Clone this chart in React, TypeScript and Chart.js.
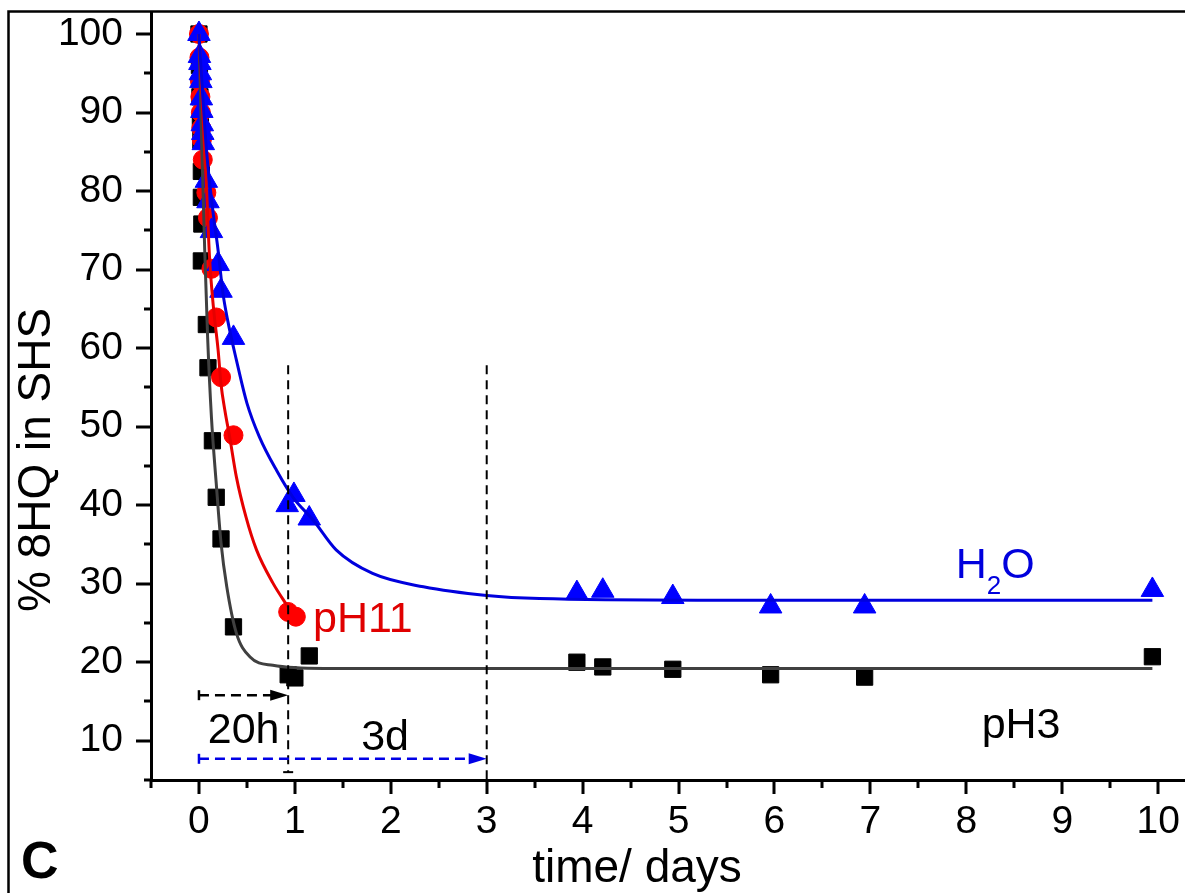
import React, { useEffect, useRef } from "react";
import { Chart, registerables } from "chart.js";

Chart.register(...registerables);

const FONT = "'Liberation Sans', Arial, Helvetica, sans-serif";

// ---- measured points (time in days, % 8HQ in SHS) ----
const pH3Days = [0, 0.005, 0.01, 0.015, 0.02, 0.025, 0.025, 0.03, 0.025, 0.077, 0.094, 0.14, 0.18, 0.23, 0.36, 0.93, 1.0, 1.15, 3.94, 4.21, 4.94, 5.96, 6.94, 9.94];
const pH3Pct = [100, 96, 92, 89, 86.5, 82.5, 79.2, 75.8, 71.1, 63.0, 57.5, 48.2, 41.0, 35.7, 24.5, 18.4, 18.0, 20.8, 20.0, 19.4, 19.1, 18.4, 18.1, 20.7];

const pH11Days = [0, 0.005, 0.01, 0.015, 0.02, 0.025, 0.03, 0.04, 0.077, 0.094, 0.13, 0.18, 0.23, 0.36, 0.93, 1.01];
const pH11Pct = [100, 97, 94, 92, 90, 88, 86.5, 84, 79.8, 76.6, 70.1, 63.9, 56.3, 48.9, 26.4, 25.8];

const h2oDays = [0, 0.005, 0.01, 0.015, 0.02, 0.025, 0.03, 0.035, 0.04, 0.045, 0.077, 0.094, 0.13, 0.2, 0.23, 0.36, 0.92, 0.99, 1.15, 3.94, 4.21, 4.94, 5.96, 6.94, 9.94];
const h2oPct = [100, 97.2, 96.3, 95.0, 94.0, 91.8, 90.2, 88.5, 87.4, 86.1, 81.3, 78.7, 74.9, 70.7, 67.3, 61.3, 40.0, 41.3, 38.3, 28.8, 29.1, 28.3, 27.1, 27.1, 29.2];

// ---- fitted curves ----
const pH3FitDays = [0, 0.03, 0.06, 0.09, 0.13, 0.18, 0.23, 0.29, 0.39, 0.53, 0.77, 1.3, 2.5, 9.94];
const pH3FitPct = [100, 85.5, 72.5, 61.5, 51.2, 42.8, 35.2, 29.6, 23.7, 20.7, 19.6, 19.2, 19.2, 19.2];

const pH11FitDays = [0, 0.04, 0.08, 0.11, 0.15, 0.2, 0.23, 0.27, 0.32, 0.39, 0.49, 0.6, 0.77, 0.93];
const pH11FitPct = [100, 90, 80, 71.6, 65.3, 59.7, 55.4, 52.1, 48.7, 43.6, 38.5, 34.3, 30.1, 27.0];

const h2oFitDays = [0, 0.04, 0.08, 0.14, 0.2, 0.25, 0.3, 0.39, 0.5, 0.63, 0.81, 0.98, 1.19, 1.43, 1.81, 2.34, 3.0, 3.55, 5.2, 9.94];
const h2oFitPct = [100, 92, 85, 78, 72.4, 67, 63.5, 58.5, 53.0, 48.7, 44.4, 41.0, 38.1, 34.3, 31.3, 29.6, 28.5, 28.1, 27.9, 27.9];

// ---- ticks ----
const xMajorTicks = [0, 1, 2, 3, 4, 5, 6, 7, 8, 9, 10];
const xMinorTicks = [-0.5, 0.5, 1.5, 2.5, 3.5, 4.5, 5.5, 6.5, 7.5, 8.5, 9.5];
const yMajorTicks = [10, 20, 30, 40, 50, 60, 70, 80, 90, 100];
const yMinorTicks = [5, 15, 25, 35, 45, 55, 65, 75, 85, 95];

// ---- annotation marks (data coordinates) ----
const markerDays = [0.93, 3.0]; // 20 h and 3 d
const markerTopPct = 57.8;
const arrow20hPct = 15.8;
const arrow3dPct = 7.7;

const xy = (xs: number[], ys: number[]) => xs.map((x, i) => ({ x, y: ys[i] }));

const decorPlugin = {
  id: "decor",
  afterDraw(chart: any) {
    const { ctx } = chart;
    const xs = chart.scales.x;
    const ys = chart.scales.y;
    const px = (v: number) => xs.getPixelForValue(v);
    const py = (v: number) => ys.getPixelForValue(v);
    const area = chart.chartArea;
    ctx.save();

    // outer frame (top and left)
    ctx.strokeStyle = "#000";
    ctx.lineWidth = 2.5;
    ctx.beginPath();
    ctx.moveTo(8.5, 900);
    ctx.lineTo(8.5, 11.5);
    ctx.lineTo(1190, 11.5);
    ctx.stroke();

    // ticks
    ctx.lineWidth = 3;
    ctx.lineCap = "butt";
    ctx.beginPath();
    xMajorTicks.forEach((v) => { const p = Math.round(px(v)); ctx.moveTo(p, area.bottom); ctx.lineTo(p, area.bottom + 14); });
    xMinorTicks.forEach((v) => { const p = Math.round(px(v)); ctx.moveTo(p, area.bottom); ctx.lineTo(p, area.bottom + 8); });
    yMajorTicks.forEach((v) => { const p = Math.round(py(v)); ctx.moveTo(area.left, p); ctx.lineTo(area.left - 15, p); });
    yMinorTicks.forEach((v) => { const p = Math.round(py(v)); ctx.moveTo(area.left, p); ctx.lineTo(area.left - 7, p); });
    ctx.stroke();

    // dashed vertical markers
    ctx.lineWidth = 2;
    ctx.setLineDash([9, 6]);
    ctx.strokeStyle = "#000";
    ctx.beginPath();
    ctx.moveTo(px(markerDays[0]), py(markerTopPct));
    ctx.lineTo(px(markerDays[0]), py(6.0));
    ctx.moveTo(px(markerDays[1]), py(markerTopPct));
    ctx.lineTo(px(markerDays[1]), area.bottom);
    ctx.stroke();
    ctx.setLineDash([]);
    ctx.beginPath();
    ctx.moveTo(px(markerDays[0]) - 5, py(6.0));
    ctx.lineTo(px(markerDays[0]) + 5, py(6.0));
    ctx.stroke();

    const arrow = (x0: number, x1: number, yv: number, color: string) => {
      const y = py(yv);
      const a = px(x0);
      const b = px(x1);
      ctx.strokeStyle = color;
      ctx.fillStyle = color;
      ctx.lineWidth = 2.5;
      ctx.setLineDash([]);
      ctx.beginPath();
      ctx.moveTo(a, y - 5);
      ctx.lineTo(a, y + 5);
      ctx.stroke();
      ctx.setLineDash([10, 6]);
      ctx.beginPath();
      ctx.moveTo(a, y);
      ctx.lineTo(b - 16, y);
      ctx.stroke();
      ctx.setLineDash([]);
      ctx.beginPath();
      ctx.moveTo(b - 18, y - 5.5);
      ctx.lineTo(b, y);
      ctx.lineTo(b - 18, y + 5.5);
      ctx.closePath();
      ctx.fill();
    };
    arrow(0, markerDays[0], arrow20hPct, "#000");
    arrow(0, markerDays[1], arrow3dPct, "#0000e6");

    // texts
    ctx.textBaseline = "alphabetic";
    ctx.fillStyle = "#000";
    ctx.font = `43px ${FONT}`;
    ctx.textAlign = "center";
    ctx.fillText("20h", px(0.466), py(9.75));
    ctx.fillText("3d", px(1.94), py(8.86));
    ctx.textAlign = "left";
    ctx.fillText("pH3", px(8.16), py(10.4));

    ctx.fillStyle = "#e00000";
    ctx.fillText("pH11", px(1.19), py(23.85));

    ctx.fillStyle = "#0000dd";
    const hx = px(7.89);
    const hy = py(30.7);
    ctx.fillText("H", hx, hy);
    const hw = ctx.measureText("H").width;
    ctx.font = `26px ${FONT}`;
    ctx.fillText("2", hx + hw, hy + 16);
    const tw = ctx.measureText("2").width;
    ctx.font = `43px ${FONT}`;
    ctx.fillText("O", hx + hw + tw, hy);

    // panel letter
    ctx.fillStyle = "#000";
    ctx.font = `bold 52px ${FONT}`;
    ctx.fillText("C", 21, 878);

    // axis titles
    ctx.font = `46px ${FONT}`;
    ctx.textAlign = "center";
    ctx.fillText("time/ days", 637, 882);
    ctx.save();
    ctx.translate(50, 460);
    ctx.rotate(-Math.PI / 2);
    ctx.fillText("% 8HQ in SHS", 0, 0);
    ctx.restore();

    ctx.restore();
  },
};

export default function App() {
  const ref = useRef<HTMLCanvasElement>(null);
  useEffect(() => {
    const lineDs = (label: string, xs: number[], ys: number[], color: string) => ({
      label,
      data: xy(xs, ys),
      showLine: true,
      borderColor: color,
      backgroundColor: color,
      borderWidth: 3,
      pointRadius: 0,
      cubicInterpolationMode: "monotone" as const,
    });
    const ptDs = (label: string, xs: number[], ys: number[], color: string, style: string, r: number) => ({
      label,
      data: xy(xs, ys),
      showLine: false,
      pointStyle: style,
      pointRadius: r,
      pointBorderWidth: 1,
      borderColor: color,
      backgroundColor: color,
    });
    const chart = new Chart(ref.current as HTMLCanvasElement, {
      type: "scatter",
      data: {
        datasets: [
          lineDs("H2O fit", h2oFitDays, h2oFitPct, "#0000dd"),
          lineDs("pH11 fit", pH11FitDays, pH11FitPct, "#e60000"),
          lineDs("pH3 fit", pH3FitDays, pH3FitPct, "#404040"),
          ptDs("H2O", h2oDays, h2oPct, "#0000ff", "triangle", 13),
          ptDs("pH11", pH11Days, pH11Pct, "#ff0000", "circle", 9.5),
          ptDs("pH3", pH3Days, pH3Pct, "#000000", "rect", 11.5),
        ] as any,
      },
      options: {
        animation: false,
        responsive: false,
        maintainAspectRatio: false,
        layout: { autoPadding: false, padding: { top: 12, left: 0, right: 0, bottom: 0 } },
        plugins: { legend: { display: false }, tooltip: { enabled: false } },
        scales: {
          x: {
            type: "linear",
            min: -0.5,
            max: 10.28,
            afterBuildTicks: (s: any) => { s.ticks = xMajorTicks.map((v) => ({ value: v })); },
            afterFit: (s: any) => { s.height = 113; s.paddingLeft = 0; s.paddingRight = 0; },
            ticks: { font: { family: FONT, size: 39 }, color: "#000", padding: 19, maxRotation: 0, autoSkip: false, callback: (v: any) => String(v) },
            grid: { display: false, drawTicks: false },
            border: { display: true, color: "#000", width: 3 },
          },
          y: {
            type: "linear",
            min: 5,
            max: 102.8,
            afterBuildTicks: (s: any) => { s.ticks = yMajorTicks.map((v) => ({ value: v })); },
            afterFit: (s: any) => { s.width = 151; s.paddingTop = 0; s.paddingBottom = 0; },
            ticks: { font: { family: FONT, size: 39 }, color: "#000", padding: 28, autoSkip: false, callback: (v: any) => String(v) },
            grid: { display: false, drawTicks: false },
            border: { display: true, color: "#000", width: 3 },
          },
        },
      },
      plugins: [decorPlugin],
    } as any);
    return () => chart.destroy();
  }, []);
  return (
    <div style={{ position: "absolute", left: 0, top: 0, width: 1185, height: 893, background: "#fff" }}>
      <canvas ref={ref} width={1185} height={893} style={{ display: "block", width: 1185, height: 893 }} />
    </div>
  );
}
